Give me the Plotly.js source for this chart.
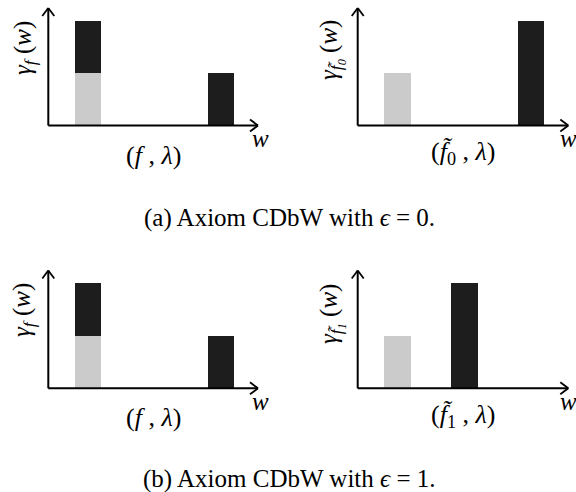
<!DOCTYPE html>
<html>
<head>
<meta charset="utf-8">
<script src="https://cdn.plot.ly/plotly-3.0.1.min.js"></script>
<style>html,body{margin:0;padding:0;background:#fff;}#chart{width:576px;height:492px;}</style>
</head>
<body>
<div id="chart"></div>
<script>
// Data (bar positions on w axis, heights of gamma)
const lightX_a_left = [1.5];   const lightY_a_left = [1];
const darkX_a_left  = [1.5, 6.5]; const darkY_a_left = [1, 1];
const lightX_a_right = [1.5];  const lightY_a_right = [1];
const darkX_a_right  = [6.5];  const darkY_a_right = [2];
const lightX_b_left = [1.5];   const lightY_b_left = [1];
const darkX_b_left  = [1.5, 6.5]; const darkY_b_left = [1, 1];
const lightX_b_right = [1.5];  const lightY_b_right = [1];
const darkX_b_right  = [4];    const darkY_b_right = [2];

const LIGHT = '#cbcbcb', DARK = '#1d1d1d';
const XMAX = 7.9, YMAX = 2.24;
const FONT = 'Liberation Serif, DejaVu Serif, serif';

const W = 576, H = 492;
const px = v => v / W, py = v => 1 - v / H;

const panels = [
  {lx: lightX_a_left, ly: lightY_a_left, dx: darkX_a_left, dy: darkY_a_left,
   dom: [48.3, 258, 8, 125.5]},
  {lx: lightX_a_right, ly: lightY_a_right, dx: darkX_a_right, dy: darkY_a_right,
   dom: [357.7, 568.3, 8, 125.5]},
  {lx: lightX_b_left, ly: lightY_b_left, dx: darkX_b_left, dy: darkY_b_left,
   dom: [48.3, 258, 270.5, 388.3]},
  {lx: lightX_b_right, ly: lightY_b_right, dx: darkX_b_right, dy: darkY_b_right,
   dom: [357.7, 568.3, 270.5, 388.3]}
];

const data = [];
const layout = {
  width: W, height: H, margin: {l: 0, r: 0, t: 0, b: 0},
  paper_bgcolor: '#fff', plot_bgcolor: 'rgba(0,0,0,0)',
  showlegend: false, barmode: 'stack', bargap: 0,
  font: {family: FONT, color: '#000', size: 20},
  shapes: [], annotations: []
};

const aL = 8, aW = 6;   // arrow head size in px
// segment in page pixels -> paper-referenced line shape (not clipped by subplots)
const seg = (x0, y0, x1, y1, w) => ({type: 'line', xref: 'paper', yref: 'paper',
  x0: px(x0), y0: py(y0), x1: px(x1), y1: py(y1), line: {color: '#000', width: w}, layer: 'above'});

panels.forEach((p, i) => {
  const n = i + 1;
  const xa = n === 1 ? 'x' : 'x' + n, ya = n === 1 ? 'y' : 'y' + n;
  const xk = n === 1 ? 'xaxis' : 'xaxis' + n, yk = n === 1 ? 'yaxis' : 'yaxis' + n;
  data.push({type: 'bar', x: p.lx, y: p.ly, width: 1, marker: {color: LIGHT, line: {width: 0}}, xaxis: xa, yaxis: ya, hoverinfo: 'skip'});
  data.push({type: 'bar', x: p.dx, y: p.dy, width: 1, marker: {color: DARK, line: {width: 0}}, xaxis: xa, yaxis: ya, hoverinfo: 'skip'});
  layout[xk] = {domain: [px(p.dom[0]), px(p.dom[1])], range: [0, XMAX], anchor: ya,
    showline: false, showgrid: false, zeroline: false, showticklabels: false, ticks: '', fixedrange: true};
  layout[yk] = {domain: [py(p.dom[3]), py(p.dom[2])], range: [0, YMAX], anchor: xa,
    showline: false, showgrid: false, zeroline: false, showticklabels: false, ticks: '', fixedrange: true};
  const [x0, x1, yt, yb] = p.dom;
  // axis lines along the subplot's left and bottom edges
  layout.shapes.push(seg(x0, yb, x1, yb, 2), seg(x0, yb, x0, yt, 2));
  // open arrow heads
  layout.shapes.push(
    seg(x1 - aL, yb - aW, x1, yb, 1.8), seg(x1 - aL, yb + aW, x1, yb, 1.8),
    seg(x0 - aW, yt + aL, x0, yt, 1.8), seg(x0 + aW, yt + aL, x0, yt, 1.8)
  );
});

const ann = (x, y, text, size, angle) => ({
  xref: 'paper', yref: 'paper', x: px(x), y: py(y), text: text, showarrow: false,
  xanchor: 'center', yanchor: 'middle', textangle: angle || 0,
  font: {family: FONT, size: size, color: '#000'}
});

layout.annotations.push(
  ann(25, 48, '<i>γ<sub>f</sub></i> (<i>w</i>)', 25, -90),
  ann(260, 138, '<i>w</i>', 25),
  ann(153, 155, '(<i>f</i> , <i>λ</i>)', 26),
  ann(332, 50, '<i>γ<sub>f̃<sub>0</sub></sub></i> (<i>w</i>)', 25, -90),
  ann(568, 138, '<i>w</i>', 25),
  ann(463, 153, '(<i>f̃</i><sub>0</sub> , <i>λ</i>)', 26),
  ann(289, 218, '(a) Axiom CDbW with <i>ϵ</i> = 0.', 25),
  ann(23, 310, '<i>γ<sub>f</sub></i> (<i>w</i>)', 25, -90),
  ann(260, 401, '<i>w</i>', 25),
  ann(153, 417, '(<i>f</i> , <i>λ</i>)', 26),
  ann(332, 314, '<i>γ<sub>f̃<sub>1</sub></sub></i> (<i>w</i>)', 25, -90),
  ann(568, 401, '<i>w</i>', 25),
  ann(463, 416, '(<i>f̃</i><sub>1</sub> , <i>λ</i>)', 26),
  ann(289, 479, '(b) Axiom CDbW with <i>ϵ</i> = 1.', 25)
);

Plotly.newPlot('chart', data, layout, {staticPlot: true, displayModeBar: false});
</script>
</body>
</html>
